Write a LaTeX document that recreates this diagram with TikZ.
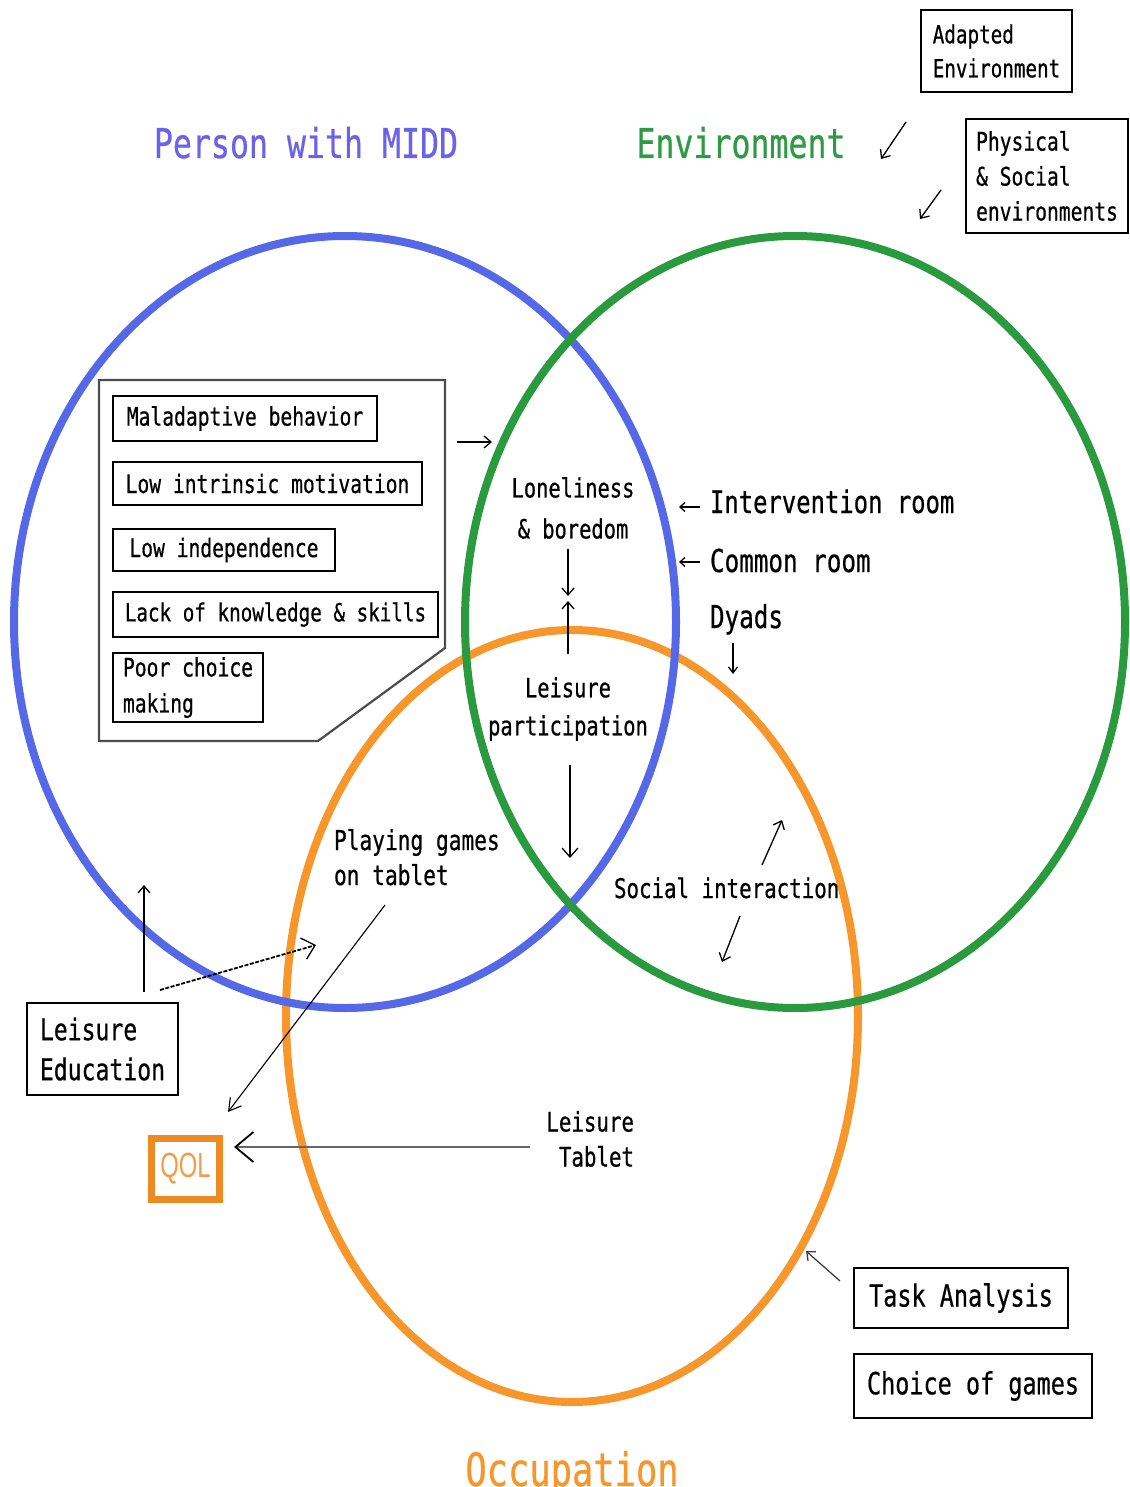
\documentclass[tikz,border=0pt]{standalone}
\usepackage{fontspec}
\setmainfont{DejaVu Sans Mono}[FakeStretch=0.77, FakeBold=0.6]
\newfontfamily\qolfont{Liberation Sans}[FakeStretch=0.68]
\usetikzlibrary{arrows.meta}
\definecolor{cblue}{HTML}{5468E8}
\definecolor{cgreen}{HTML}{2A9A3E}
\definecolor{corange}{HTML}{F7972B}
\definecolor{tblue}{HTML}{6B62EC}
\definecolor{tgreen}{HTML}{2E9A44}
\definecolor{qorange}{HTML}{EE8A22}
\definecolor{qtext}{HTML}{F49C45}
\newcommand\fsz[2]{\fontsize{#1}{#2}\selectfont}
\tikzset{
  ring/.style={line width=8pt},
  box/.style={draw=black, line width=2pt, inner sep=0pt},
  lbl/.style={inner sep=0pt, outer sep=0pt},
  arr/.style={-{Straight Barb[length=7pt,width=12pt]}, line width=1.3pt},
  frameline/.style={draw=black!70, line width=2.2pt, line join=miter},
}
\begin{document}
\begin{tikzpicture}[x=1pt,y=-1pt]
\useasboundingbox (0,0) rectangle (1129,1487);
% circles
\draw[ring, corange] (572,1016) ellipse [x radius=286pt, y radius=386pt];
\draw[ring, cblue] (345,622) ellipse [x radius=331pt, y radius=386pt];
\draw[ring, cgreen] (795,622) ellipse [x radius=330pt, y radius=386pt];

% titles
\node[lbl, text=tblue, font=\fsz{41}{48}, anchor=base] (tperson) at (306,158) {Person with MIDD};
\node[lbl, text=tgreen, font=\fsz{41}{48}, anchor=base] (tenv) at (741,158) {Environment};
\node[lbl, text=corange, font=\fsz{46}{52}, anchor=base] (tocc) at (572,1486) {Occupation};

% top right boxes
\node[box, anchor=north west, minimum width=151pt, minimum height=82pt, align=left, font=\fsz{25}{34}] (adapted) at (920,9) {Adapted\\Environment};
\node[box, anchor=north west, minimum width=162pt, minimum height=114pt, align=left, font=\fsz{25.5}{35}] (physical) at (965,118) {Physical\\\& Social\\environments};
\coordinate (a1s) at (906,122); \coordinate (a1e) at (881,159);
\coordinate (a2s) at (941,190); \coordinate (a2e) at (920,219);
\draw[arr] (a1s) -- (a1e);
\draw[arr] (a2s) -- (a2e);

% person factors frame
\draw[frameline] (99,380) -- (445,380) -- (445,648) -- (318,741) -- (99,741) -- cycle;
\node[box, anchor=north west, minimum width=264pt, minimum height=45pt, font=\fsz{25.5}{30}] (mal) at (112,395) {Maladaptive behavior};
\node[box, anchor=north west, minimum width=309pt, minimum height=43pt, font=\fsz{25.5}{30}] (lowint) at (112,461) {Low intrinsic motivation};
\node[box, anchor=north west, minimum width=222pt, minimum height=42pt, font=\fsz{25.5}{30}] (lowind) at (112,528) {Low independence};
\node[box, anchor=north west, minimum width=325pt, minimum height=45pt, font=\fsz{25}{30}] (lack) at (112,591) {Lack of knowledge \& skills};
\node[box, anchor=north west, minimum width=150pt, minimum height=69pt, align=left, font=\fsz{25.5}{36}] (poor) at (112,652) {Poor choice\\making};
\coordinate (pfs) at (457,442); \coordinate (pfe) at (492,442);
\draw[arr] (pfs) -- (pfe);

% central
\node[lbl, align=center, font=\fsz{26.5}{41}] (lone) at (573,508) {Loneliness\\\& boredom};
\node[lbl, align=center, font=\fsz{26.5}{38}] (lp) at (568,709) {Leisure\\participation};
\coordinate (l1s) at (568,549); \coordinate (l1e) at (568,596);
\coordinate (l2s) at (568,654); \coordinate (l2e) at (568,601);
\coordinate (l3s) at (570,765); \coordinate (l3e) at (570,858);
\draw[arr] (l1s) -- (l1e);
\draw[arr] (l2s) -- (l2e);
\draw[arr, -{Straight Barb[length=9pt,width=16pt]}] (l3s) -- (l3e);

% environment labels
\node[lbl, font=\fsz{31}{36}, anchor=base west] (inter) at (710,513) {Intervention room};
\node[lbl, font=\fsz{31.5}{36}, anchor=base west] (common) at (710,572) {Common room};
\node[lbl, font=\fsz{31.5}{36}, anchor=base west] (dyads) at (710,628) {Dyads};
\coordinate (i1s) at (700,507); \coordinate (i1e) at (679,507);
\coordinate (c1s) at (700,562); \coordinate (c1e) at (679,562);
\coordinate (d1s) at (733,643); \coordinate (d1e) at (733,674);
\draw[arr, -{Straight Barb[length=5pt,width=9pt]}] (i1s) -- (i1e);
\draw[arr, -{Straight Barb[length=5pt,width=9pt]}] (c1s) -- (c1e);
\draw[arr, -{Straight Barb[length=6pt,width=9pt]}] (d1s) -- (d1e);

% social interaction
\node[lbl, font=\fsz{27}{32}, anchor=base west] (social) at (614,898) {Social interaction};
\coordinate (s1s) at (762,865); \coordinate (s1e) at (782,820);
\coordinate (s2s) at (740,916); \coordinate (s2e) at (722,962);
\draw[arr] (s1s) -- (s1e);
\draw[arr] (s2s) -- (s2e);

% playing games
\node[lbl, align=left, font=\fsz{27.5}{35}, anchor=north west] (play) at (334,829) {Playing games\\on tablet};
\coordinate (p1s) at (385,905); \coordinate (p1e) at (228,1112);
\draw[arr, line width=1.1pt, -{Straight Barb[length=12pt,width=14pt]}] (p1s) -- (p1e);

% leisure education
\node[box, anchor=north west, minimum width=151pt, minimum height=92pt, align=left, font=\fsz{30}{40}] (led) at (26,1002) {Leisure\\Education};
\coordinate (e1s) at (144,992); \coordinate (e1e) at (144,885);
\coordinate (e2s) at (160,990); \coordinate (e2e) at (316,945);
\draw[arr, line width=1.3pt] (e1s) -- (e1e);
\draw[arr, dashed, dash pattern=on 4pt off 1.5pt, line width=1.8pt, -{Straight Barb[length=12pt,width=22pt, line width=1.3pt]}] (e2s) -- (e2e);

% QOL
\node[draw=qorange, line width=7pt, minimum width=68pt, minimum height=61pt, inner sep=0pt, text=qtext, font=\qolfont\fsz{35}{38}] (qol) at (185.5,1169) {QOL};

% leisure tablet
\node[lbl, align=right, font=\fsz{27}{35}, anchor=north east] (ltab) at (634,1111) {Leisure\\Tablet};
\coordinate (t1s) at (530,1147); \coordinate (t1e) at (234,1147);
\draw[black!60, line width=1.6pt, -{Straight Barb[length=18pt,width=30pt, line width=1.8pt, black]}] (t1s) -- (t1e);

% bottom right boxes
\node[box, anchor=north west, minimum width=214pt, minimum height=60pt, font=\fsz{30.5}{36}] (task) at (853,1267) {Task Analysis};
\node[box, anchor=north west, minimum width=238pt, minimum height=64pt, font=\fsz{30.5}{36}] (choice) at (853,1353) {Choice of games};
\coordinate (k1s) at (840,1281); \coordinate (k1e) at (806,1251);
\draw[arr, black!75] (k1s) -- (k1e);
\end{tikzpicture}
\end{document}
